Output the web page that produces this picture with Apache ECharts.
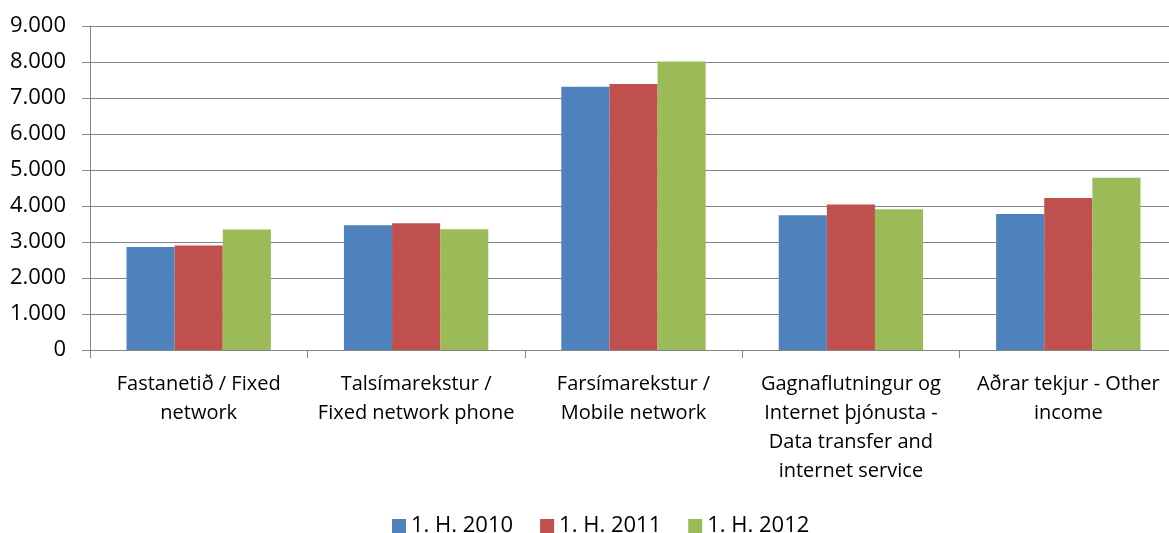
<!DOCTYPE html>
<html><head><meta charset="utf-8">
<script src="https://cdn.jsdelivr.net/npm/echarts@6/dist/echarts.min.js"></script>
<style>html,body{margin:0;padding:0;background:#fff}#c{width:1169px;height:533px}</style>
</head><body><div id="c"></div>
<script>
const categories = [
  "Fastanetið / Fixed\nnetwork",
  "Talsímarekstur /\nFixed network phone",
  "Farsímarekstur /\nMobile network",
  "Gagnaflutningur og\nInternet þjónusta -\nData transfer and\ninternet service",
  "Aðrar tekjur - Other\nincome"
];
const seriesNames = ["1. H. 2010", "1. H. 2011", "1. H. 2012"];
const h2010 = [2860, 3465, 7315, 3745, 3775];
const h2011 = [2905, 3520, 7390, 4045, 4225];
const h2012 = [3350, 3355, 8015, 3910, 4785];
const colors = ["#4F81BD", "#C0504D", "#9BBB59"];
const font = "'Open Sans', sans-serif";
const chart = echarts.init(document.getElementById('c'), null, {renderer: 'canvas'});
const fmt = v => v === 0 ? '0' : (v/1000).toFixed(0) + '.000';
chart.setOption({
  animation: false,
  color: colors,
  grid: {left: 90, width: 1087, top: 26, bottom: 183, containLabel: false, outerBoundsMode: 'none'},
  legend: {
    top: 510, left: 387, itemWidth: 14, itemHeight: 14, itemGap: 27,
    icon: 'rect',
    textStyle: {fontFamily: font, fontSize: 22, color: '#000'},
    data: seriesNames
  },
  xAxis: {
    type: 'category', data: categories,
    axisLine: {lineStyle: {color: '#868686', width: 1}},
    axisTick: {show: true, length: 8, lineStyle: {color: '#868686'}},
    axisLabel: {fontFamily: font, fontSize: 20, color: '#000', lineHeight: 29, margin: 20, interval: 0}
  },
  yAxis: {
    type: 'value', min: 0, max: 9000, interval: 1000,
    axisLine: {show: true, lineStyle: {color: '#868686', width: 1}},
    axisTick: {show: true, length: 8, lineStyle: {color: '#868686'}},
    splitLine: {lineStyle: {color: '#868686', width: 1}},
    axisLabel: {fontFamily: font, fontSize: 22, color: '#000', margin: 24, formatter: fmt}
  },
  series: [
    {name: seriesNames[0], type: 'bar', data: h2010, barGap: '0%', barCategoryGap: '33.6%'},
    {name: seriesNames[1], type: 'bar', data: h2011, barGap: '0%', barCategoryGap: '33.6%'},
    {name: seriesNames[2], type: 'bar', data: h2012, barGap: '0%', barCategoryGap: '33.6%'}
  ]
});
</script></body></html>
